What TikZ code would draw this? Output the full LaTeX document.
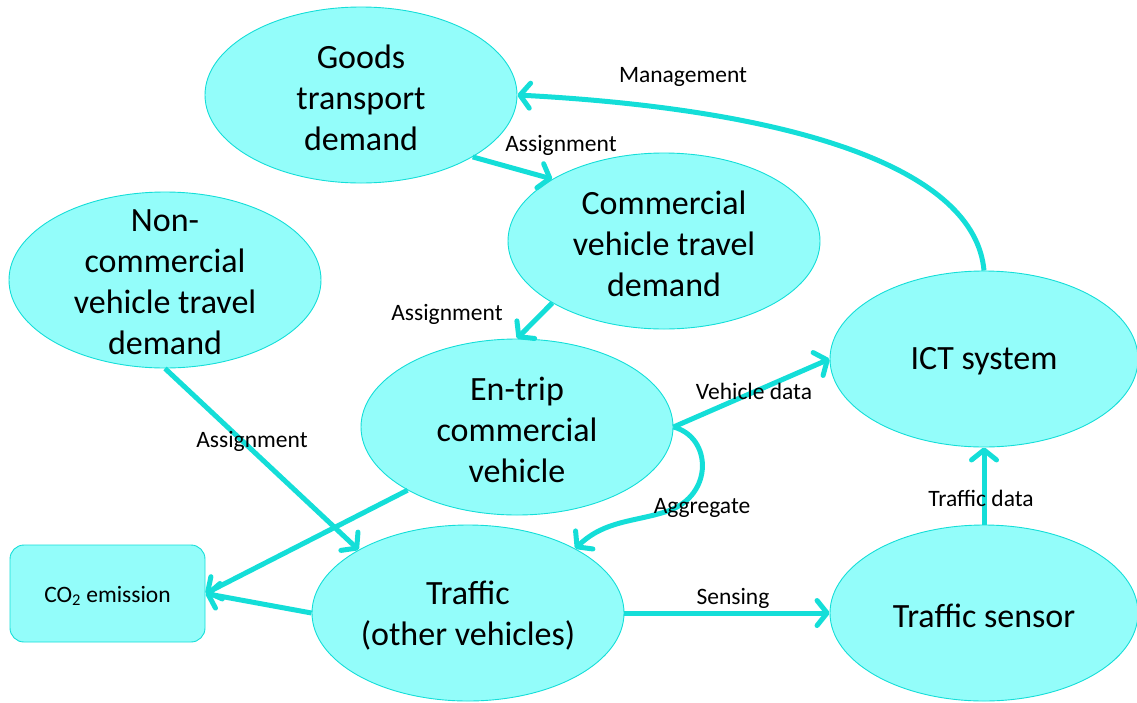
\documentclass[tikz,border=0pt]{standalone}
\usepackage{fontspec}
\setmainfont{Carlito}
\usetikzlibrary{shapes.geometric,arrows.meta}
\definecolor{fillc}{RGB}{147,253,250}
\definecolor{linec}{RGB}{20,222,216}
\begin{document}
\begin{tikzpicture}[x=1pt,y=-1pt,
  ell/.style={ellipse,draw=linec,line width=0.9pt,fill=fillc,minimum width=312pt,minimum height=176pt,inner sep=0pt},
  etext/.style={align=center,font=\fontsize{34}{41}\selectfont,inner sep=0pt,yshift=-2.5pt},
  lbl/.style={font=\fontsize{23.5}{28}\selectfont,inner sep=0pt,yshift=-2.5pt},
  arr/.style={draw=linec,line width=5pt,-{Straight Barb[length=10pt,width=25pt,round]}}]
\useasboundingbox (0,0) rectangle (1137,702);
% nodes
\node[ell,label={[etext]center:{Goods\\transport\\demand}}] (goods) at (361,95) {};
\node[ell,label={[etext]center:{Commercial\\vehicle travel\\demand}}] (comm) at (664,241) {};
\node[ell,label={[etext]center:{Non-\\commercial\\vehicle travel\\demand}}] (noncom) at (165,280) {};
\node[ell,label={[etext]center:{En-trip\\commercial\\vehicle}}] (entrip) at (517,427) {};
\node[ell,minimum width=308pt,label={[etext]center:{ICT system}}] (ict) at (984,359) {};
\node[ell,label={[etext]center:{Traffic\\(other vehicles)}}] (traffic) at (468,613) {};
\node[ell,minimum width=308pt,label={[etext]center:{Traffic sensor}}] (sensor) at (984,613) {};
\node[draw=linec,line width=0.9pt,fill=fillc,rounded corners=14pt,minimum width=195pt,minimum height=97pt,inner sep=0pt,label={[lbl]center:{CO\textsubscript{2} emission}}] (co2) at (107.5,593.5) {};
% connectors
\draw[arr] (ict.north) .. controls (975,170) and (800,110) .. (goods.east);
\draw[arr] (goods.-29) -- (comm.151);
\draw[arr] (comm.209) -- (entrip.north);
\draw[arr] (noncom.south) -- (traffic.150);
\draw[arr] (entrip.east) -- (ict.west);
\draw[arr] (entrip.east) .. controls (712,437) and (714,495) .. (668,511) .. controls (635,522) and (605,520) .. (traffic.31);
\draw[arr] (entrip.210) -- (co2.east);
\draw[arr] (traffic.west) -- (co2.east);
\draw[arr] (traffic.east) -- (sensor.west);
\draw[arr] (sensor.north) -- (ict.south);
% labels
\node[lbl] (l1) at (683,74) {Management};
\node[lbl] (l2) at (561,143) {Assignment};
\node[lbl] (l3) at (447,312) {Assignment};
\node[lbl] (l4) at (252,439) {Assignment};
\node[lbl] (l5) at (754,389) {Vehicle data};
\node[lbl] (l6) at (702,505) {Aggregate};
\node[lbl] (l7) at (733,596) {Sensing};
\node[lbl] (l8) at (981,496) {Traffic data};
\end{tikzpicture}
\end{document}
